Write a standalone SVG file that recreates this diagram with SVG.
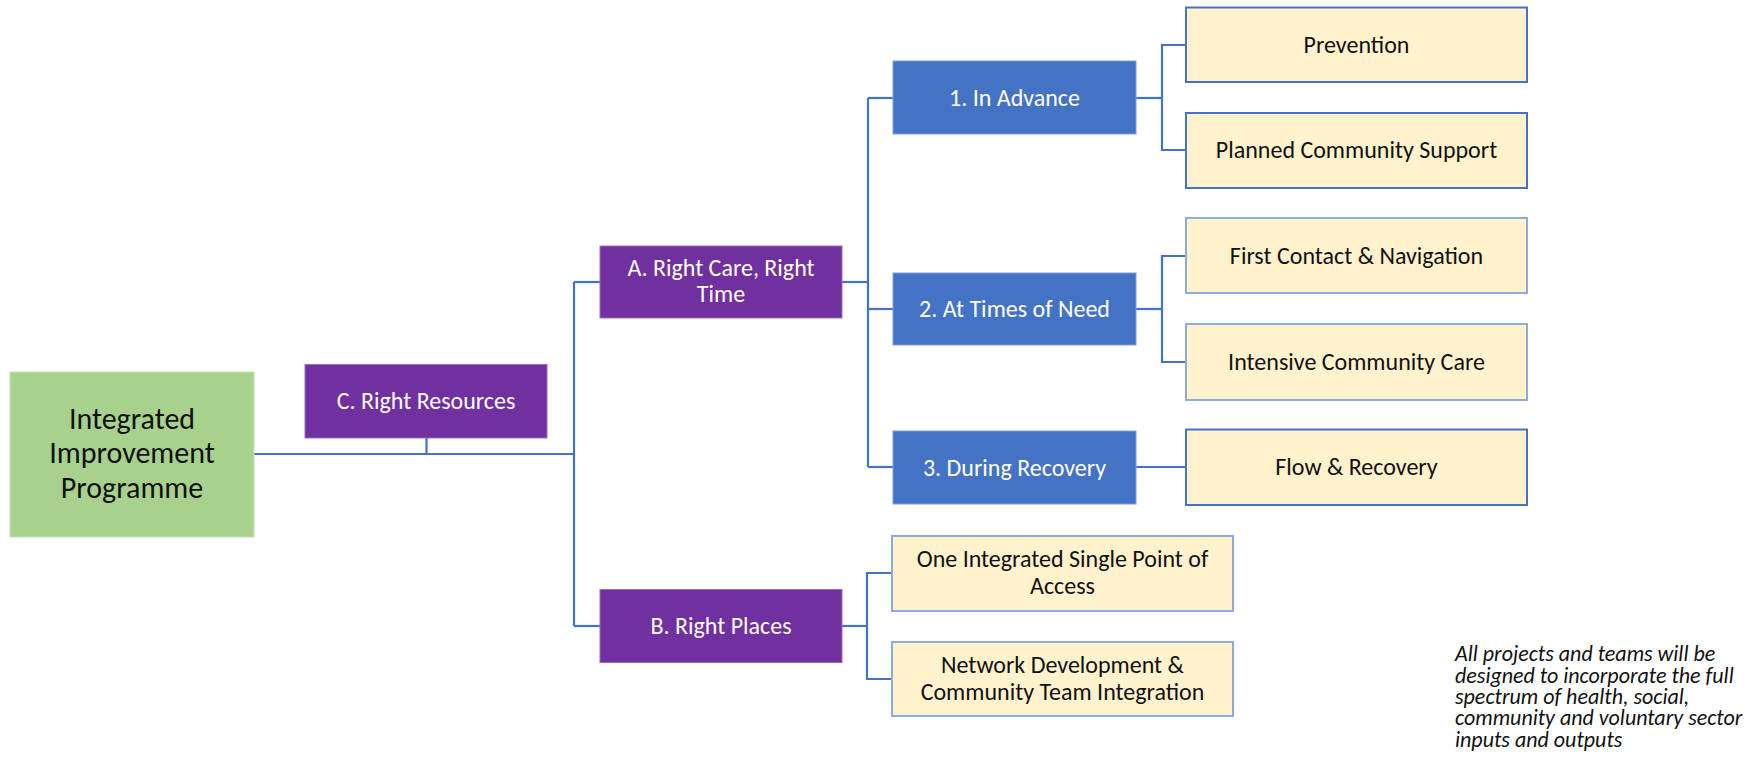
<svg xmlns="http://www.w3.org/2000/svg" width="1755" height="762" viewBox="0 0 1755 762">
  <style>
    text { font-family: "Carlito", "Lato", "Liberation Sans", sans-serif; text-anchor: middle; }
    .root { fill: #A9D18E; stroke: #C5E0B4; stroke-width: 1; }
    .purple { fill: #7030A0; stroke: #9B6BC4; stroke-width: 1; }
    .blue { fill: #4472C4; stroke: #7F9FD8; stroke-width: 1; }
    .leaf { fill: #FFF2CC; stroke: #4472C4; stroke-width: 2; }
    .leaf-lt { fill: #FFF2CC; stroke: #8FAADC; stroke-width: 2; }
    .t-root { font-size: 30px; fill: #111; }
    .t-light { font-size: 24px; fill: #FFFFFF; }
    .t-dark { font-size: 24px; fill: #111; }
    .note { font-size: 22px; font-style: italic; fill: #111; text-anchor: start; }
    .conn { fill: none; stroke: #4472C4; stroke-width: 2.2; }
  </style>

  <!-- connectors -->
  <g id="connectors" class="conn">
    <path d="M254,454 H574"/>
    <path d="M426.5,438 V454"/>
    <path d="M574,282 V626"/>
    <path d="M574,282 H600"/>
    <path d="M574,626 H600"/>
    <path d="M842,282 H868"/>
    <path d="M868,98 V467"/>
    <path d="M868,98 H893"/>
    <path d="M868,309 H893"/>
    <path d="M868,467 H893"/>
    <path d="M1136,98 H1162"/>
    <path d="M1186,45 H1162 V150 H1186"/>
    <path d="M1136,309 H1162"/>
    <path d="M1186,256 H1162 V362 H1186"/>
    <path d="M1136,467 H1186"/>
    <path d="M842,626 H867"/>
    <path d="M892,573 H867 V679 H892"/>
  </g>

  <g id="node-root">
    <rect class="root" x="10" y="372" width="244" height="165"/>
    <text class="t-root" x="132" y="428.5">Integrated</text>
    <text class="t-root" x="132" y="463">Improvement</text>
    <text class="t-root" x="132" y="497.5">Programme</text>
  </g>

  <g id="node-c">
    <rect class="purple" x="305" y="364.5" width="242" height="73.5"/>
    <text class="t-light" x="426" y="409">C. Right Resources</text>
  </g>

  <g id="node-a">
    <rect class="purple" x="600" y="246" width="242" height="72"/>
    <text class="t-light" x="721" y="276">A. Right Care, Right</text>
    <text class="t-light" x="721" y="302">Time</text>
  </g>

  <g id="node-b">
    <rect class="purple" x="600" y="589.5" width="242" height="73"/>
    <text class="t-light" x="721" y="634">B. Right Places</text>
  </g>

  <g id="node-1">
    <rect class="blue" x="893" y="61" width="243" height="73"/>
    <text class="t-light" x="1014.5" y="105.5">1. In Advance</text>
  </g>

  <g id="node-2">
    <rect class="blue" x="893" y="273" width="243" height="72"/>
    <text class="t-light" x="1014.5" y="317">2. At Times of Need</text>
  </g>

  <g id="node-3">
    <rect class="blue" x="893" y="431" width="243" height="73"/>
    <text class="t-light" x="1014.5" y="475.5">3. During Recovery</text>
  </g>

  <g id="node-prevention">
    <rect class="leaf" x="1186" y="7.5" width="341" height="74.5"/>
    <text class="t-dark" x="1356.5" y="52.5">Prevention</text>
  </g>

  <g id="node-planned">
    <rect class="leaf" x="1186" y="113" width="341" height="75"/>
    <text class="t-dark" x="1356.5" y="158">Planned Community Support</text>
  </g>

  <g id="node-first-contact">
    <rect class="leaf-lt" x="1186" y="218" width="341" height="75"/>
    <text class="t-dark" x="1356.5" y="263.5">First Contact &amp; Navigation</text>
  </g>

  <g id="node-intensive">
    <rect class="leaf-lt" x="1186" y="324" width="341" height="76"/>
    <text class="t-dark" x="1356.5" y="370">Intensive Community Care</text>
  </g>

  <g id="node-flow">
    <rect class="leaf" x="1186" y="429.5" width="341" height="75.5"/>
    <text class="t-dark" x="1356.5" y="475">Flow &amp; Recovery</text>
  </g>

  <g id="node-spa">
    <rect class="leaf-lt" x="892" y="536" width="341" height="75"/>
    <text class="t-dark" x="1062.5" y="567">One Integrated Single Point of</text>
    <text class="t-dark" x="1062.5" y="593.5">Access</text>
  </g>

  <g id="node-network">
    <rect class="leaf-lt" x="892" y="642" width="341" height="74"/>
    <text class="t-dark" x="1062.5" y="672.5">Network Development &amp;</text>
    <text class="t-dark" x="1062.5" y="700">Community Team Integration</text>
  </g>

  <g id="note">
    <text class="note" x="1455" y="661">All projects and teams will be</text>
    <text class="note" x="1455" y="682.5">designed to incorporate the full</text>
    <text class="note" x="1455" y="704">spectrum of health, social,</text>
    <text class="note" x="1455" y="725">community and voluntary sector</text>
    <text class="note" x="1455" y="746.5">inputs and outputs</text>
  </g>
</svg>
